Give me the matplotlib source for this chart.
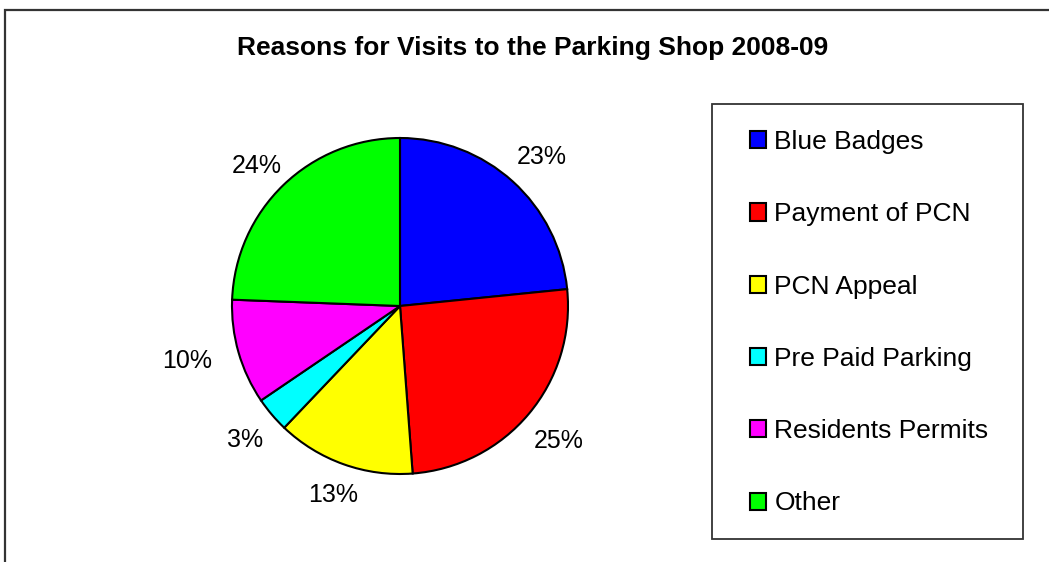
import matplotlib
matplotlib.use("Agg")
import matplotlib.pyplot as plt
import numpy as np
from matplotlib.patches import Rectangle, Patch

categories = ["Blue Badges", "Payment of PCN", "PCN Appeal", "Pre Paid Parking",
              "Residents Permits", "Other"]
values = [23.4, 25.4, 13.3, 3.4, 10.1, 24.4]
colors = ["#0000FF", "#FF0000", "#FFFF00", "#00FFFF", "#FF00FF", "#00FF00"]
title = "Reasons for Visits to the Parking Shop 2008-09"
# label placement (distance from centre in radii, vertical nudge in radii)
label_dist = [1.26, 1.23, 1.18, 1.21, 1.32, 1.23]
label_dy = [-0.03, 0.0, 0.0, 0.0, 0.05, -0.04]

plt.rcParams['font.family'] = ['Liberation Sans', 'DejaVu Sans']

W, H = 1049, 562
fig = plt.figure(figsize=(W / 100, H / 100), dpi=100)

# outer chart frame (cropped at right and bottom)
fig.patches.append(Rectangle((5 / W, -0.1), 1.2, 1.1 - 10 / H, transform=fig.transFigure,
                             fill=False, edgecolor="#333333", linewidth=1.6))

cx, cy, r = 400, 306, 168
ax = fig.add_axes([(cx - r) / W, (H - cy - r) / H, 2 * r / W, 2 * r / H])
wedges, texts, autotexts = ax.pie(
    values, colors=colors, startangle=90, counterclock=False,
    autopct=lambda p: f"{p:.0f}%", pctdistance=1.24,
    wedgeprops=dict(edgecolor="black", linewidth=1.5),
    textprops=dict(fontsize=18, color="black"))
for w, t, d, dy in zip(wedges, autotexts, label_dist, label_dy):
    ang = np.deg2rad((w.theta1 + w.theta2) / 2)
    t.set_position((d * np.cos(ang), d * np.sin(ang) - 0.015 + dy))
ax.set_xlim(-1, 1)
ax.set_ylim(-1, 1)
ax.set_aspect("equal")
ax.axis("off")

fig.text(533 / W, 1 - 48 / H, title, ha="center", va="center",
         fontsize=19, fontweight="bold")

# legend box
lx0, ly0, lx1, ly1 = 712, 104, 1023, 539
fig.patches.append(Rectangle((lx0 / W, 1 - ly1 / H), (lx1 - lx0) / W, (ly1 - ly0) / H,
                             transform=fig.transFigure, fill=False,
                             edgecolor="#333333", linewidth=1.3))
handles = [Patch(facecolor=c, edgecolor="black", linewidth=1.5) for c in colors]
leg = fig.legend(handles, categories, loc="upper left",
                 bbox_to_anchor=(750 / W, 1 - 130 / H), frameon=False,
                 fontsize=19, handlelength=0.62, handleheight=0.62,
                 handletextpad=0.3, labelspacing=1.83, borderaxespad=0,
                 borderpad=0)

fig.savefig("out.png", dpi=100)
